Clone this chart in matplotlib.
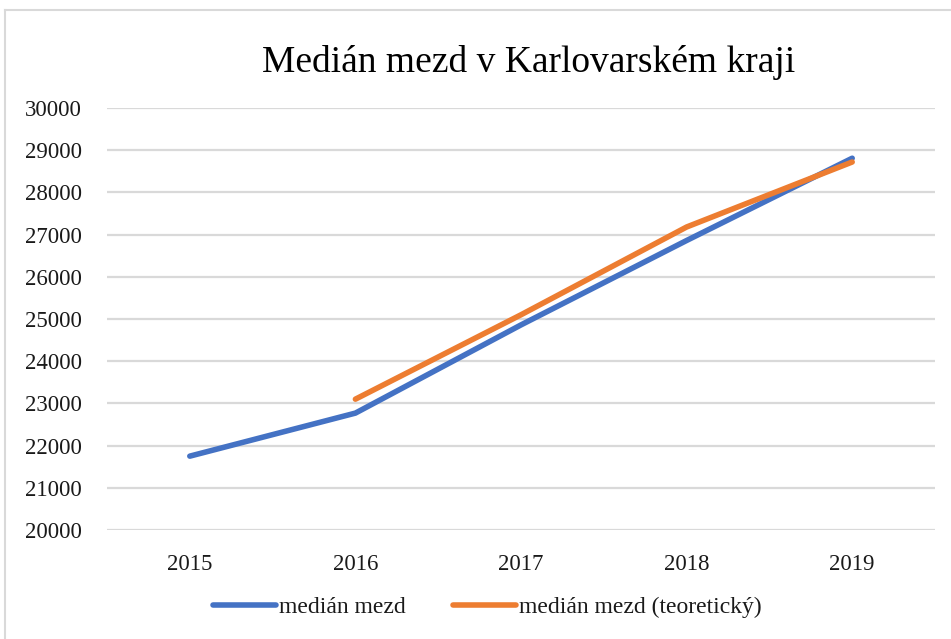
import numpy as np
import matplotlib
matplotlib.use("Agg")
import matplotlib.pyplot as plt
from matplotlib.lines import Line2D

years = ["2015", "2016", "2017", "2018", "2019"]
median = [21750, 22770, 24860, 26860, 28810]
median_theor = [np.nan, 23100, 25100, 27180, 28720]
yticks = [20000, 21000, 22000, 23000, 24000, 25000, 26000, 27000, 28000, 29000, 30000]

plt.rcParams['font.family'] = ['Liberation Serif', 'DejaVu Serif']

fig = plt.figure(figsize=(9.51, 6.39), dpi=100)
ax = fig.add_axes([107/951, 1 - 530/639, (935-107)/951, (530-108)/639])

x = np.arange(len(years))
ax.plot(x, median, color='#4472C4', lw=4.0, solid_capstyle='round', solid_joinstyle='round', label='medián mezd')
ax.plot(x, median_theor, color='#ED7D31', lw=4.0, solid_capstyle='round', solid_joinstyle='round', label='medián mezd (teoretický)')

ax.set_xlim(-0.5, len(years) - 0.5)
ax.set_ylim(20000, 30000)
ax.set_yticks(yticks)
ax.set_yticklabels([str(v) for v in yticks])
ax.set_xticks(x)
ax.set_xticklabels(years)
ax.grid(axis='y', color='#D9D9D9', lw=1.6)
ax.set_axisbelow(True)
for s in ax.spines.values():
    s.set_visible(False)
ax.tick_params(axis='both', length=0, labelsize=16.5, labelcolor='#1a1a1a')
ax.tick_params(axis='x', pad=17)
ax.tick_params(axis='y', pad=18)

fig.text(529/951, 1 - 63/639, 'Medián mezd v Karlovarském kraji', ha='center', va='center',
         fontsize=27, color='#000000')

fig.legend(loc='center', bbox_to_anchor=(487/951, 1 - 607/639), ncol=2, frameon=False,
           fontsize=17, handlelength=2.7, handletextpad=0.1, columnspacing=2.0,
           labelcolor='#1a1a1a')

# outer chart border (left and top)
fig.add_artist(Line2D([5/951, 5/951], [0, 1 - 10/639], transform=fig.transFigure, color='#D9D9D9', lw=1.5))
fig.add_artist(Line2D([5/951, 1], [1 - 10/639, 1 - 10/639], transform=fig.transFigure, color='#D9D9D9', lw=1.5))

fig.savefig('out.png', dpi=100)
